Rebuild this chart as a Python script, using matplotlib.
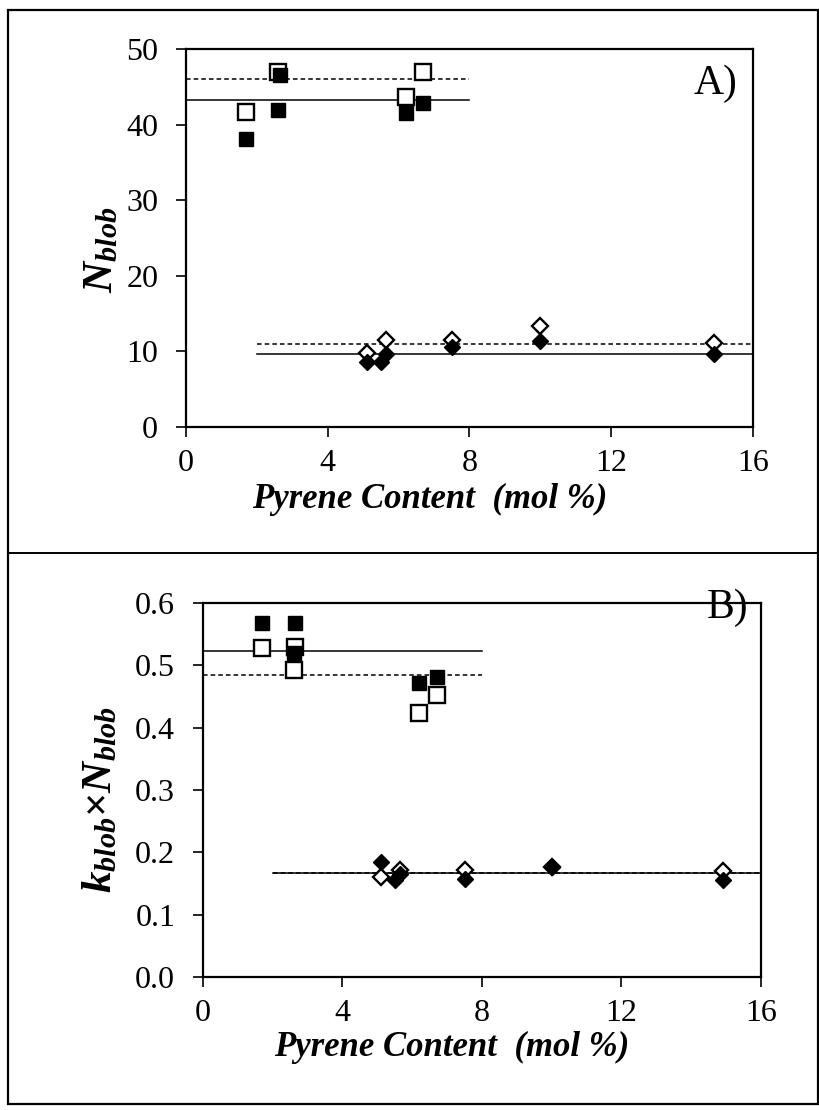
import matplotlib
matplotlib.use("Agg")
import matplotlib.pyplot as plt
from matplotlib.lines import Line2D
from matplotlib.patches import Rectangle

plt.rcParams["font.family"] = ["Liberation Serif", "DejaVu Serif"]
plt.rcParams["mathtext.fontset"] = "custom"
plt.rcParams["mathtext.rm"] = "Liberation Serif"
plt.rcParams["mathtext.it"] = "Liberation Serif:italic"
plt.rcParams["mathtext.bf"] = "Liberation Serif:bold"
plt.rcParams["mathtext.bfit"] = "Liberation Serif:bold:italic"

# Panel A: N_blob
a_sq_open_x = [1.7, 2.6, 6.2, 6.7]
a_sq_open_y = [41.7, 46.9, 43.7, 47.0]
a_sq_fill_x = [1.7, 2.65, 2.6, 6.2, 6.7]
a_sq_fill_y = [38.1, 46.5, 41.9, 41.5, 42.9]
a_di_open_x = [5.1, 5.65, 7.5, 10.0, 14.9]
a_di_open_y = [9.75, 11.5, 11.5, 13.3, 11.1]
a_di_fill_x = [5.1, 5.5, 5.65, 7.5, 10.0, 14.9]
a_di_fill_y = [8.6, 8.65, 9.6, 10.55, 11.4, 9.65]
a_sq_solid, a_sq_dash = 43.2, 46.0
a_di_solid, a_di_dash = 9.67, 10.95

# Panel B: k_blob x N_blob
b_sq_open_x = [1.7, 2.65, 2.6, 6.2, 6.7]
b_sq_open_y = [0.528, 0.529, 0.492, 0.423, 0.452]
b_sq_fill_x = [1.7, 2.65, 2.6, 6.2, 6.7]
b_sq_fill_y = [0.568, 0.568, 0.520, 0.471, 0.481]
b_di_open_x = [5.1, 5.65, 7.5, 10.0, 14.9]
b_di_open_y = [0.160, 0.171, 0.171, 0.176, 0.170]
b_di_fill_x = [5.1, 5.5, 5.65, 7.5, 10.0, 14.9]
b_di_fill_y = [0.184, 0.156, 0.166, 0.158, 0.176, 0.155]
b_sq_solid, b_sq_dash = 0.5225, 0.4845
b_di_solid, b_di_dash = 0.167, 0.167

sq_range = [0, 8]
di_range = [2, 16]
xticks = [0, 4, 8, 12, 16]

W, H = 820, 1110
fig = plt.figure(figsize=(8.2, 11.1), dpi=100)


def px_axes(left, top, right, bottom):
    return fig.add_axes([left / W, 1 - bottom / H, (right - left) / W, (bottom - top) / H])


def style(ax):
    for s in ax.spines.values():
        s.set_linewidth(1.6)
    ax.tick_params(direction="out", length=7, width=1.2, labelsize=23)
    ax.tick_params(axis="y", pad=13)
    ax.tick_params(axis="x", pad=9)
    ax.set_xlim(0, 16)
    ax.set_xticks(xticks)


def draw(ax, sqo, sqf, dio, dif, lines):
    ax.plot(*sqo, ls="none", marker="s", ms=12, mfc="white", mec="black", mew=1.7, zorder=3)
    ax.plot(*sqf, ls="none", marker="s", ms=10.5, mfc="black", mec="black", zorder=4)
    ax.plot(*dio, ls="none", marker="D", ms=7.8, mfc="white", mec="black", mew=1.7, zorder=3)
    ax.plot(*dif, ls="none", marker="D", ms=7.8, mfc="black", mec="black", zorder=4)
    sq_s, sq_d, di_s, di_d = lines
    ax.plot(sq_range, [sq_s, sq_s], color="black", lw=1.1, zorder=2)
    ax.plot(sq_range, [sq_d, sq_d], color="black", lw=1.1, ls=(0, (3, 2)), zorder=2)
    ax.plot(di_range, [di_s, di_s], color="black", lw=1.1, zorder=2)
    ax.plot(di_range, [di_d, di_d], color="black", lw=1.1, ls=(0, (3, 2)), zorder=2)


# Panel A
axA = px_axes(186, 49, 753, 427)
style(axA)
axA.set_ylim(0, 50)
axA.set_yticks([0, 10, 20, 30, 40, 50])
draw(axA, (a_sq_open_x, a_sq_open_y), (a_sq_fill_x, a_sq_fill_y),
     (a_di_open_x, a_di_open_y), (a_di_fill_x, a_di_fill_y),
     (a_sq_solid, a_sq_dash, a_di_solid, a_di_dash))

# Panel B
axB = px_axes(203, 603, 761, 977)
style(axB)
axB.set_ylim(0, 0.6)
axB.set_yticks([0.0, 0.1, 0.2, 0.3, 0.4, 0.5, 0.6])
axB.set_yticklabels(["0.0", "0.1", "0.2", "0.3", "0.4", "0.5", "0.6"])
draw(axB, (b_sq_open_x, b_sq_open_y), (b_sq_fill_x, b_sq_fill_y),
     (b_di_open_x, b_di_open_y), (b_di_fill_x, b_di_fill_y),
     (b_sq_solid, b_sq_dash, b_di_solid, b_di_dash))

# labels
lab = dict(fontsize=25, fontweight="bold", fontstyle="italic", ha="center", va="center")
fig.text(430 / W, 1 - 499 / H, "Pyrene Content  (mol %)", **lab)
fig.text(452 / W, 1 - 1047 / H, "Pyrene Content  (mol %)", **lab)
fig.text(102 / W, 1 - 250 / H, r"$\mathbfit{N}_{\mathbfit{blob}}$", rotation=90,
         fontsize=31, ha="center", va="center")
fig.text(101 / W, 1 - 800 / H,
         r"$\mathbfit{k}_{\mathbfit{blob}}\mathbf{\times}\mathbfit{N}_{\mathbfit{blob}}$",
         rotation=90, fontsize=31, ha="center", va="center")
fig.text(716 / W, 1 - 84 / H, "A)", fontsize=30, ha="center", va="center")
fig.text(728 / W, 1 - 608 / H, "B)", fontsize=30, ha="center", va="center")

# outer frame and divider
fig.add_artist(Rectangle((8 / W, 1 - 1104 / H), 810 / W, 1094 / H, transform=fig.transFigure,
                         fill=False, lw=1.6, ec="black"))
fig.add_artist(Line2D([8 / W, 818 / W], [1 - 553 / H, 1 - 553 / H], transform=fig.transFigure,
                      lw=1.4, color="black"))

fig.savefig("out.png", dpi=100)
